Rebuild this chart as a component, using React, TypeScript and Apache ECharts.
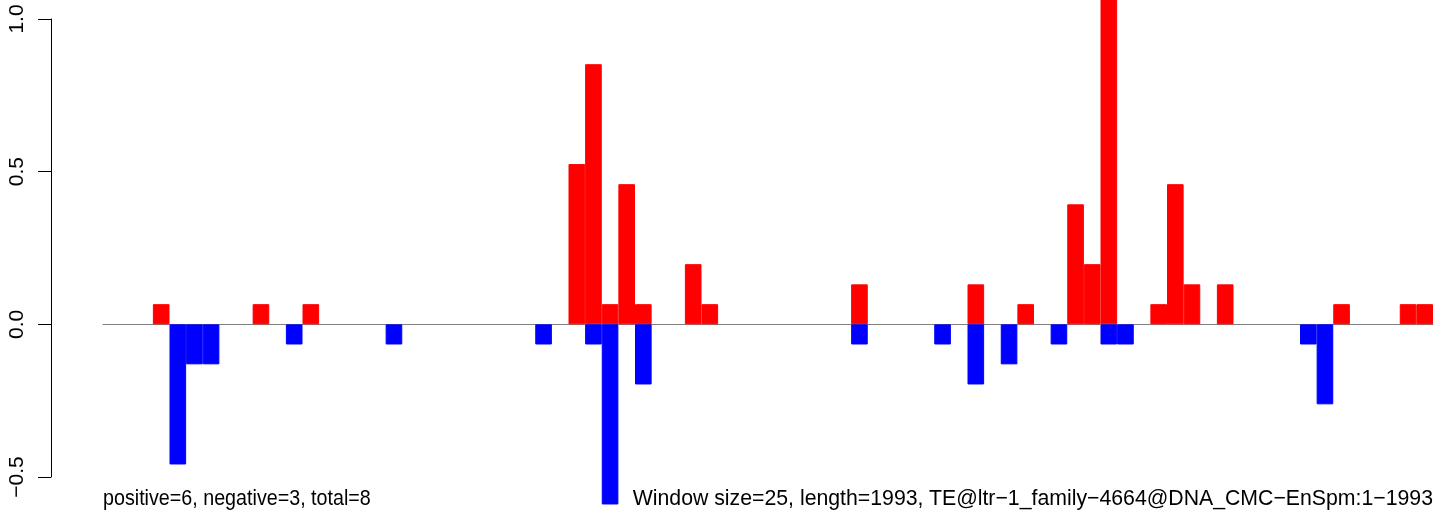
import React, { useEffect, useRef } from "react";
import * as echarts from "echarts";

// 80 windows of 25 bp over length 1993
const windowIndex: number[] = Array.from({ length: 80 }, (_, i) => i);

// positive (red) values by window index
const positiveEntries: [number, number][] = [
  [3, 0.066], [9, 0.066], [12, 0.066],
  [28, 0.525], [29, 0.852], [30, 0.066], [31, 0.459], [32, 0.066],
  [35, 0.197], [36, 0.066],
  [45, 0.131], [52, 0.131], [55, 0.066],
  [58, 0.393], [59, 0.197], [60, 1.2],
  [63, 0.066], [64, 0.459], [65, 0.131], [67, 0.131],
  [74, 0.066], [78, 0.066], [79, 0.066],
];

// negative (blue) values by window index
const negativeEntries: [number, number][] = [
  [4, -0.459], [5, -0.131], [6, -0.131], [11, -0.066], [17, -0.066],
  [26, -0.066], [29, -0.066], [30, -0.59], [32, -0.197],
  [45, -0.066], [50, -0.066], [52, -0.197], [54, -0.131], [57, -0.066],
  [60, -0.066], [61, -0.066], [72, -0.066], [73, -0.262],
];

const leftNote = "positive=6, negative=3, total=8";
const rightNote =
  "Window size=25, length=1993, TE@ltr\u22121_family\u22124664@DNA_CMC\u2212EnSpm:1\u22121993";

const FONT = "'Liberation Sans', Arial, Helvetica, sans-serif";

export default function App() {
  const ref = useRef<HTMLDivElement>(null);

  useEffect(() => {
    if (!ref.current) return;
    const chart = echarts.init(ref.current, undefined, { renderer: "svg" });

    const pos: (number | null)[] = windowIndex.map(() => null);
    positiveEntries.forEach(([i, v]) => (pos[i] = v));
    const neg: (number | null)[] = windowIndex.map(() => null);
    negativeEntries.forEach(([i, v]) => (neg[i] = v));

    chart.setOption({
      animation: false,
      grid: { left: 103, right: 8, top: 19, bottom: 38 },
      xAxis: {
        type: "category",
        data: windowIndex.map(String),
        axisLine: { show: true, lineStyle: { color: "#808080", width: 1 } },
        axisTick: { show: false },
        axisLabel: { show: false },
      },
      yAxis: {
        type: "value",
        min: -0.5,
        max: 1.0,
        interval: 0.5,
        offset: 52,
        axisLine: { show: true, onZero: false, lineStyle: { color: "#000000", width: 1 } },
        axisTick: { show: true, length: 13, lineStyle: { color: "#000000", width: 1 } },
        axisLabel: {
          show: true,
          rotate: 90,
          margin: 25,
          color: "#000",
          fontFamily: FONT,
          fontSize: 21,
          formatter: (v: number) => v.toFixed(1).replace("-", "\u2212"),
        },
        splitLine: { show: false },
      },
      series: [
        {
          type: "bar",
          data: pos,
          stack: "s",
          clip: false,
          barWidth: "100%",
          itemStyle: { color: "#ff0000", borderColor: "#ff0000", borderWidth: 1 },
        },
        {
          type: "bar",
          data: neg,
          stack: "s",
          clip: false,
          barWidth: "100%",
          itemStyle: { color: "#0000ff", borderColor: "#0000ff", borderWidth: 1 },
        },
      ],
      graphic: [
        {
          type: "text",
          x: 103,
          y: 497,
          scaleX: 0.896,
          style: {
            text: leftNote,
            fill: "#000",
            font: `22px ${FONT}`,
            textAlign: "left",
            textVerticalAlign: "middle",
          },
        },
        {
          type: "text",
          x: 1433,
          y: 497,
          scaleX: 0.967,
          style: {
            text: rightNote,
            fill: "#000",
            font: `22px ${FONT}`,
            textAlign: "right",
            textVerticalAlign: "middle",
          },
        },
      ],
    });

    return () => chart.dispose();
  }, []);

  return <div ref={ref} style={{ position: "fixed", left: 0, top: 0, width: 1441, height: 515 }} />;
}
